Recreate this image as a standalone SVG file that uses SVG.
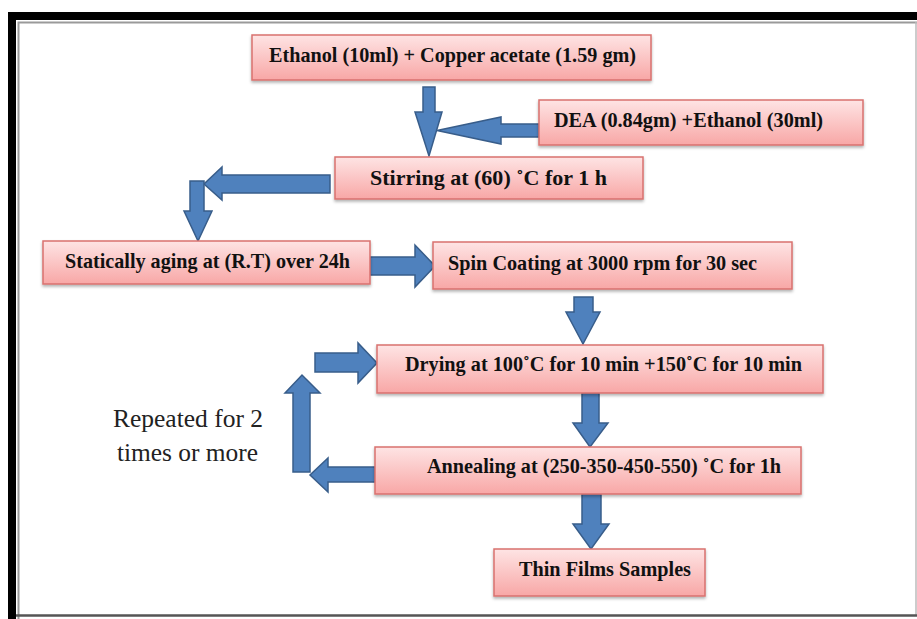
<svg xmlns="http://www.w3.org/2000/svg" width="917" height="619" viewBox="0 0 917 619">
<defs>
<linearGradient id="pink" x1="0" y1="0" x2="0" y2="1">
<stop offset="0" stop-color="#fee4e4"/>
<stop offset="1" stop-color="#f8a7a6"/>
</linearGradient>
<filter id="sh" x="-5%" y="-10%" width="110%" height="130%">
<feDropShadow dx="0" dy="2" stdDeviation="1.5" flood-color="#000" flood-opacity="0.3"/>
</filter>
</defs>
<style>
.box{fill:url(#pink);stroke:#d9716f;stroke-width:1.5;filter:url(#sh)}
.t{font-family:"Liberation Serif","Times New Roman",serif;font-weight:bold;font-size:21px;fill:#111}
.r{font-family:"Liberation Serif","Times New Roman",serif;font-size:25px;fill:#222}
.arr{fill:#4f81bd;stroke:#385d8a;stroke-width:1.5;stroke-linejoin:miter}
</style>
<rect width="917" height="619" fill="#fff"/>
<g id="frame">
<rect x="12" y="16" width="930" height="630" fill="none" stroke="#000" stroke-width="8"/>
<path d="M18.5 619 V22.5 H917" fill="none" stroke="#9a9a9a" stroke-width="2"/>
<line x1="916" y1="22" x2="916" y2="616" stroke="#bbb" stroke-width="1.5"/>
<line x1="16" y1="615.5" x2="917" y2="615.5" stroke="#555" stroke-width="2.5"/>
</g>
<g id="connectors">
<polygon class="arr" points="423,87 435,87 435,112 442,112 429,156 415,112 423,112"/>
<polygon class="arr" points="539,124 539,137 501,137 501,144 437,130.5 501,117 501,124"/>
<polygon class="arr" points="330,175 330,193 222,193 222,200 204,184 222,167 222,175"/>
<polygon class="arr" points="190,181 204,181 204,211 212,211 198,241 184,211 190,211"/>
<polygon class="arr" points="370,257 415,257 415,245 435,266 415,287 415,275 370,275"/>
<polygon class="arr" points="574,297 593,297 593,312 600,312 583,344 566,312 574,312"/>
<polygon class="arr" points="315,353 358,353 358,343 377,363 358,383 358,372 315,372"/>
<polygon class="arr" points="293,472 293,393 285,393 302,375 320,393 310,393 310,472"/>
<polygon class="arr" points="375,467 375,482 328,482 328,492 310,475 328,458 328,467"/>
<polygon class="arr" points="582,393 599,393 599,423 608,423 590,447 573,423 582,423"/>
<polygon class="arr" points="582,494 601,494 601,524 609,524 591,549 573,524 582,524"/>
</g>
<g id="n1"><rect class="box" x="252" y="35" width="399" height="45"/><text class="t" x="269" y="62" textLength="367" lengthAdjust="spacingAndGlyphs">Ethanol (10ml) + Copper acetate (1.59 gm)</text></g>
<g id="n2"><rect class="box" x="539" y="100" width="324" height="45"/><text class="t" x="554" y="127" textLength="269" lengthAdjust="spacingAndGlyphs">DEA (0.84gm) +Ethanol (30ml)</text></g>
<g id="n3"><rect class="box" x="335" y="157" width="308" height="42"/><text class="t" x="370" y="185" font-size="22" textLength="237" lengthAdjust="spacingAndGlyphs">Stirring at (60) ˚C for 1 h</text></g>
<g id="n4"><rect class="box" x="43" y="241" width="327" height="43"/><text class="t" x="65" y="268" textLength="285" lengthAdjust="spacingAndGlyphs">Statically aging at (R.T) over 24h</text></g>
<g id="n5"><rect class="box" x="433" y="242" width="359" height="47"/><text class="t" x="448" y="270" textLength="309" lengthAdjust="spacingAndGlyphs">Spin Coating at 3000 rpm for 30 sec</text></g>
<g id="n6"><rect class="box" x="377" y="345" width="446" height="48"/><text class="t" x="405" y="371" textLength="397" lengthAdjust="spacingAndGlyphs">Drying at 100˚C for 10 min +150˚C for 10 min</text></g>
<g id="n7"><rect class="box" x="375" y="447" width="426" height="47"/><text class="t" x="427" y="473" textLength="354" lengthAdjust="spacingAndGlyphs">Annealing at (250-350-450-550) ˚C for 1h</text></g>
<g id="n8"><rect class="box" x="494" y="549" width="211" height="47"/><text class="t" x="519" y="576" textLength="172" lengthAdjust="spacingAndGlyphs">Thin Films Samples</text></g>
<g id="label">
<text class="r" x="113" y="427" textLength="150" lengthAdjust="spacingAndGlyphs">Repeated for 2</text>
<text class="r" x="117" y="461" textLength="141" lengthAdjust="spacingAndGlyphs">times or more</text>
</g>
</svg>
